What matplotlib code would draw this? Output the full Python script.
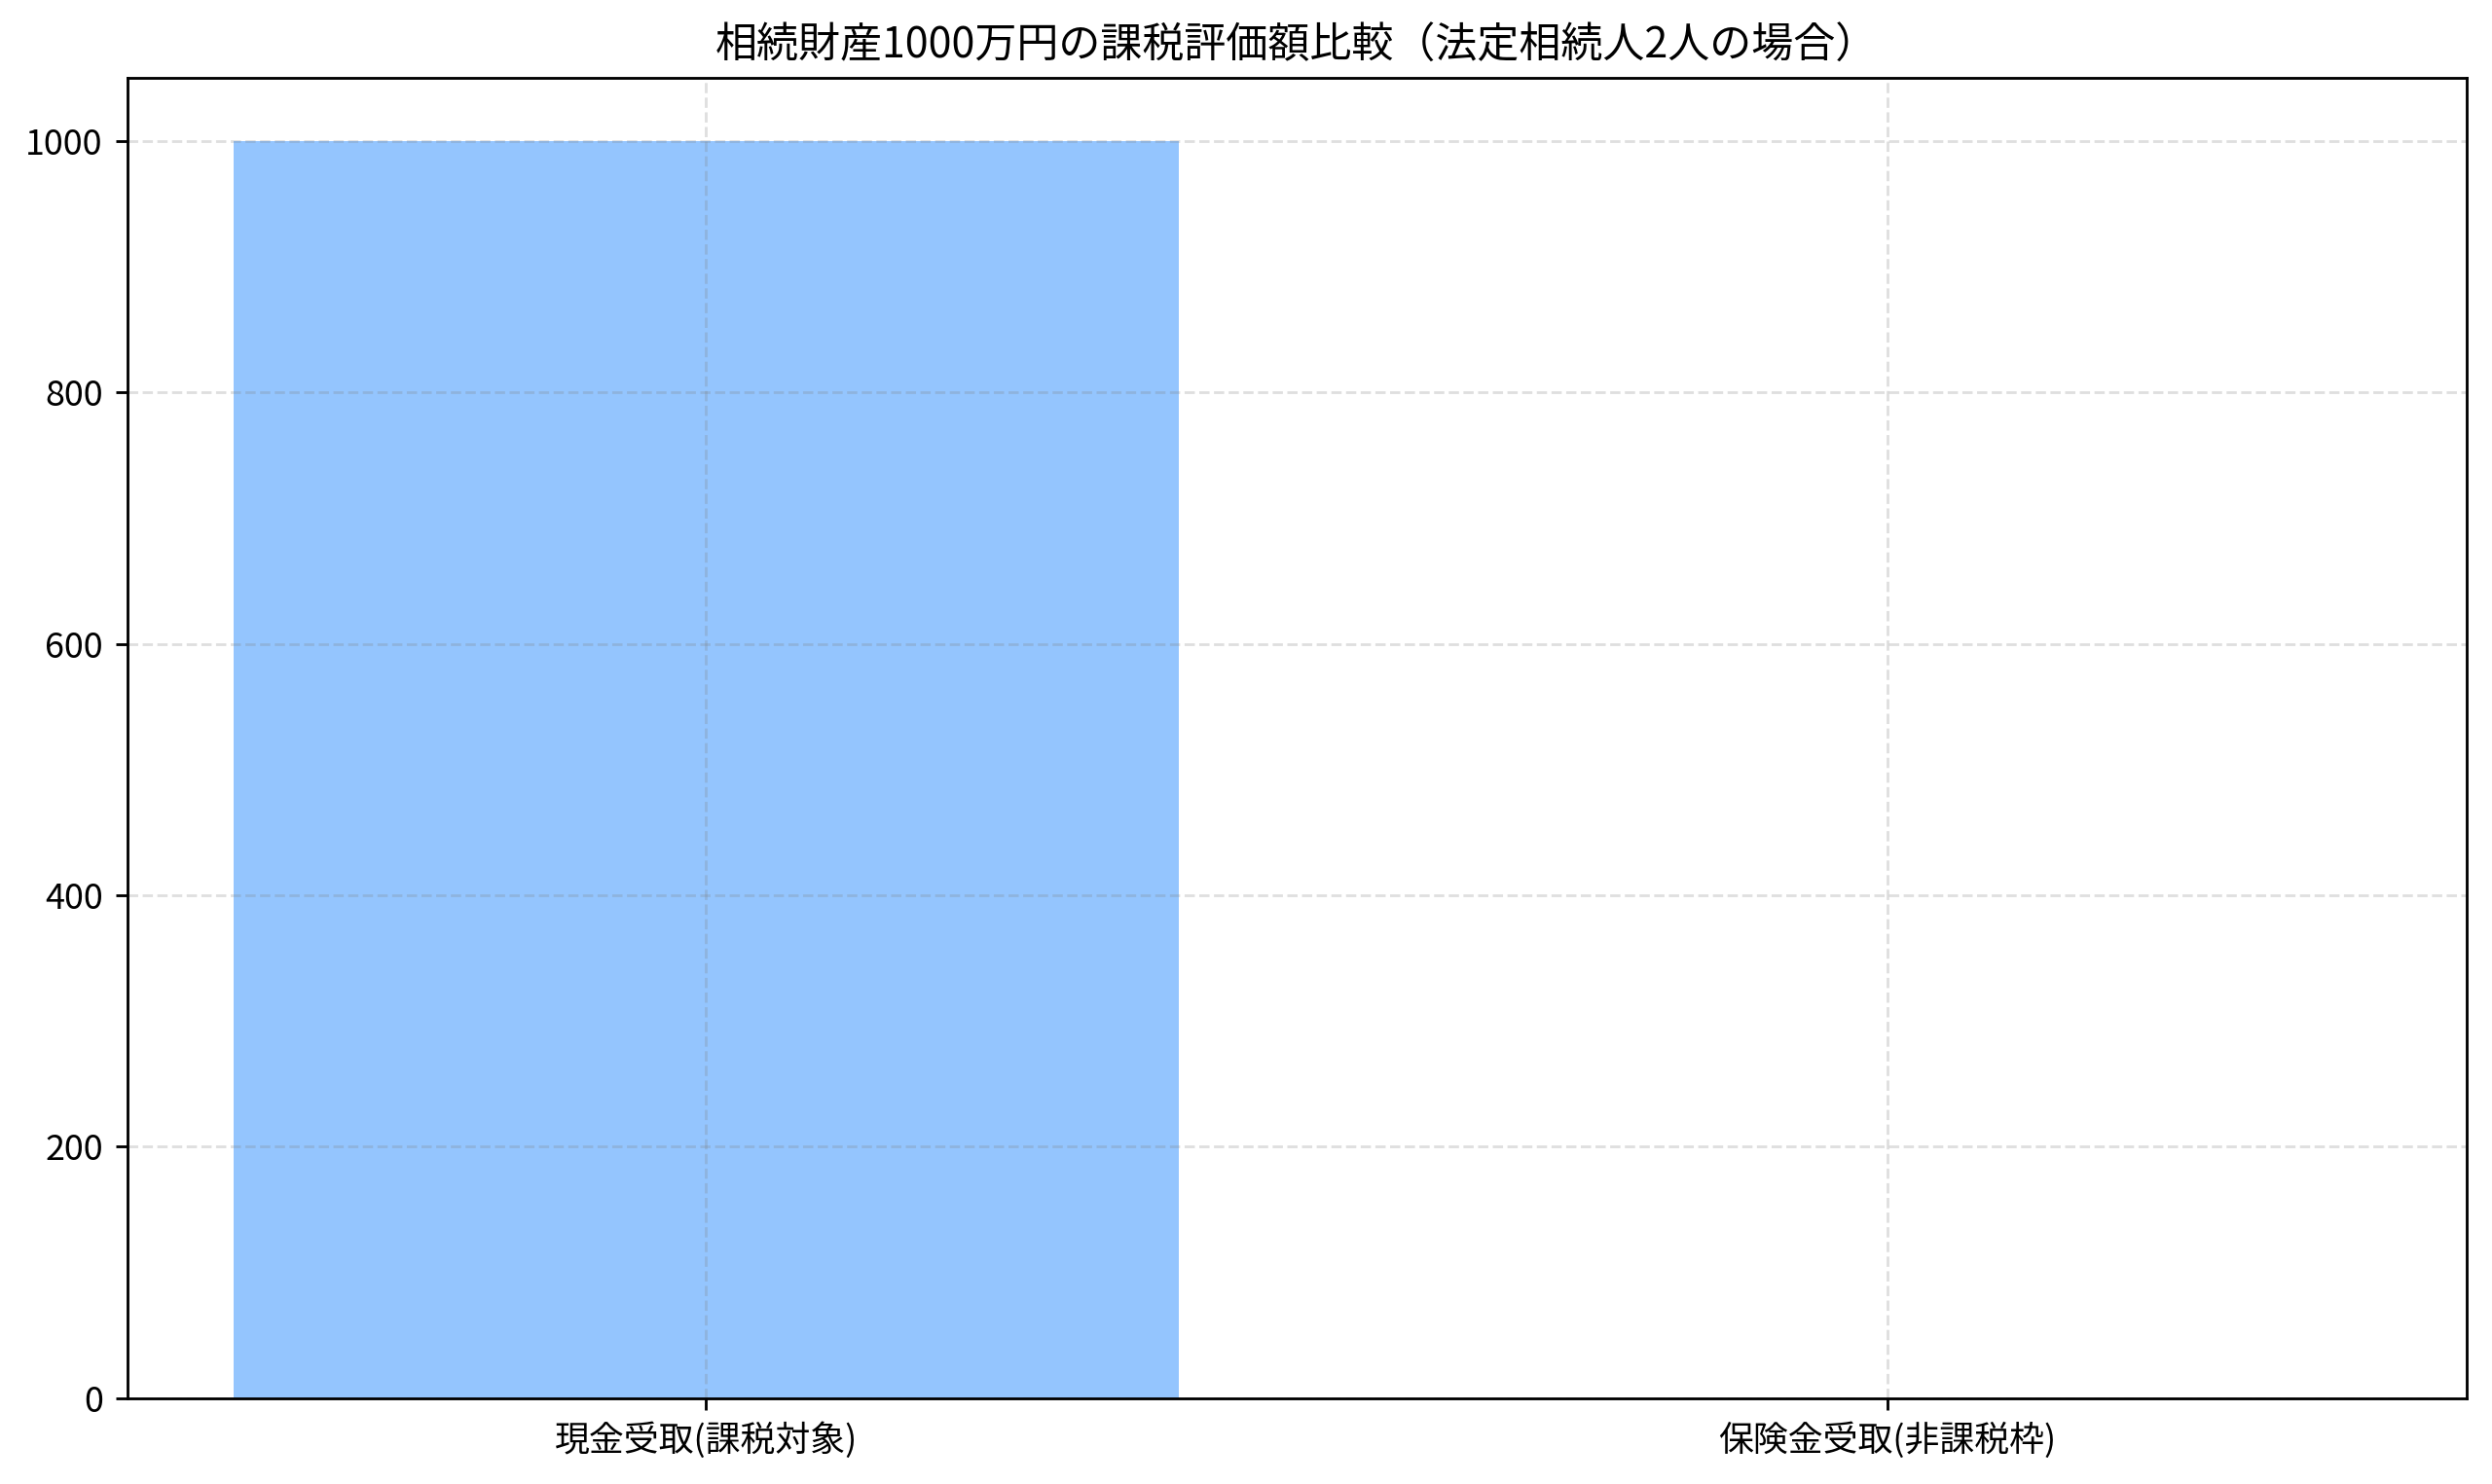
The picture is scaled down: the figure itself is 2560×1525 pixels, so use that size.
import matplotlib
matplotlib.use("Agg")
import matplotlib.pyplot as plt

plt.rcParams['font.family'] = ['Noto Sans CJK JP', 'DejaVu Sans']

categories = ['現金受取(課税対象)', '保険金受取(非課税枠)']
values = [1000, 0]
title = '相続財産1000万円の課税評価額比較（法定相続人2人の場合）'

fig, ax = plt.subplots(figsize=(10, 1525 / 256), dpi=256)
ax.bar(categories, values, color='#94c5fe', width=0.8)
ax.set_title(title, fontsize=12.1)
ax.grid(True, linestyle='--', color='gray', alpha=0.25)
ax.tick_params(labelsize=10.1)
fig.subplots_adjust(left=80 / 1568, right=1552 / 1568,
                    top=1 - 49 / 934, bottom=1 - 880 / 934)
fig.savefig('out.png', dpi=256)
